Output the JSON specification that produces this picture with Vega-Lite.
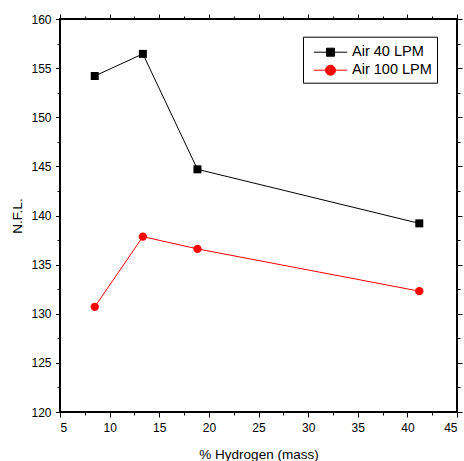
{
  "$schema": "https://vega.github.io/schema/vega-lite/v6.json",
  "width": 397,
  "height": 393,
  "autosize": "none",
  "padding": {"left": 60, "top": 19, "right": 7, "bottom": 49},
  "background": "white",
  "config": {
    "view": {"stroke": "black", "strokeWidth": 2, "fill": null},
    "font": "Liberation Sans",
    "axis": {
      "grid": false,
      "domain": false,
      "tickColor": "black",
      "tickWidth": 1,
      "labelColor": "black",
      "labelFontSize": 12,
      "labelFont": "Liberation Sans",
      "titleColor": "black",
      "titleFont": "Liberation Sans",
      "titleFontSize": 13.5,
      "titleFontWeight": "normal"
    },
    "legend": {
      "orient": "none", "legendX": 243, "legendY": 17.7,
      "strokeColor": "black", "padding": 5,
      "labelFontSize": 14.5, "labelColor": "black", "labelFont": "Liberation Sans",
      "symbolSize": 400, "labelOffset": 23, "rowPadding": 1,
      "symbolStrokeWidth": 1
    }
  },
  "data": {
    "values": [
      {"h": 8.5, "nfl": 154.2, "series": "Air 40 LPM"},
      {"h": 13.35, "nfl": 156.45, "series": "Air 40 LPM"},
      {"h": 18.85, "nfl": 144.7, "series": "Air 40 LPM"},
      {"h": 41.2, "nfl": 139.2, "series": "Air 40 LPM"},
      {"h": 8.5, "nfl": 130.7, "series": "Air 100 LPM"},
      {"h": 13.35, "nfl": 137.85, "series": "Air 100 LPM"},
      {"h": 18.85, "nfl": 136.6, "series": "Air 100 LPM"},
      {"h": 41.2, "nfl": 132.3, "series": "Air 100 LPM"}
    ]
  },
  "layer": [
    {
      "mark": {"type": "line", "strokeWidth": 1},
      "encoding": {
        "x": {"field": "h", "type": "quantitative", "scale": {"domain": [5, 45], "nice": false, "zero": false},
          "axis": {"orient": "bottom", "values": [5,10,15,20,25,30,35,40,45], "tickSize": 5, "labelPadding": 5, "title": "% Hydrogen (mass)", "titlePadding": 14}},
        "y": {"field": "nfl", "type": "quantitative", "scale": {"domain": [120, 160], "nice": false, "zero": false},
          "axis": {"orient": "left", "values": [120,125,130,135,140,145,150,155,160], "tickSize": 4.5, "labelPadding": 4.5, "title": "N.F.L.", "titlePadding": 6}},
        "color": {"field": "series", "type": "nominal", "title": null, "scale": {"domain": ["Air 40 LPM", "Air 100 LPM"], "range": ["black", "red"]},
          "legend": {
            "encode": {"symbols": {"update": {
              "shape": {"signal": "datum.value === 'Air 40 LPM' ? 'M-0.47,0H2.87M0.8,-0.4H1.6V0.4H0.8Z' : 'M-0.47,0H2.87M1.7,0A0.5,0.5,0,1,1,0.7,0A0.5,0.5,0,1,1,1.7,0Z'"},
              "stroke": {"signal": "datum.value === 'Air 40 LPM' ? 'black' : 'red'"},
              "fill": {"signal": "datum.value === 'Air 40 LPM' ? 'black' : 'red'"},
              "size": {"value": 400},
              "strokeWidth": {"value": 1},
              "opacity": {"value": 1}
            }}}
          }}
      }
    },
    {
      "transform": [{"filter": "datum.series === 'Air 40 LPM'"}],
      "mark": {"type": "point", "filled": true, "opacity": 1, "shape": "square", "size": 64, "color": "black"},
      "encoding": {
        "x": {"field": "h", "type": "quantitative", "axis": null},
        "y": {"field": "nfl", "type": "quantitative", "axis": null}
      }
    },
    {
      "transform": [{"filter": "datum.series === 'Air 100 LPM'"}],
      "mark": {"type": "point", "filled": true, "opacity": 1, "shape": "circle", "size": 70, "color": "red"},
      "encoding": {
        "x": {"field": "h", "type": "quantitative", "axis": null},
        "y": {"field": "nfl", "type": "quantitative", "axis": null}
      }
    },
    {
      "mark": {"type": "point", "opacity": 0},
      "encoding": {
        "x": {"field": "h", "type": "quantitative", "axis": {"orient": "bottom", "values": [7.5,12.5,17.5,22.5,27.5,32.5,37.5,42.5], "tickSize": 3, "labels": false, "title": null}},
        "y": {"field": "nfl", "type": "quantitative", "axis": {"orient": "left", "values": [122.5,127.5,132.5,137.5,142.5,147.5,152.5,157.5], "tickSize": 3, "labels": false, "title": null}}
      }
    },
    {
      "mark": {"type": "point", "opacity": 0},
      "encoding": {
        "x": {"field": "h", "type": "quantitative", "axis": {"orient": "top", "values": [5,10,15,20,25,30,35,40,45], "tickSize": 5, "labels": false, "title": null}},
        "y": {"field": "nfl", "type": "quantitative", "axis": {"orient": "right", "values": [120,125,130,135,140,145,150,155,160], "tickSize": 5, "labels": false, "title": null}}
      }
    },
    {
      "mark": {"type": "point", "opacity": 0},
      "encoding": {
        "x": {"field": "h", "type": "quantitative", "axis": {"orient": "top", "values": [7.5,12.5,17.5,22.5,27.5,32.5,37.5,42.5], "tickSize": 3, "labels": false, "title": null}},
        "y": {"field": "nfl", "type": "quantitative", "axis": {"orient": "right", "values": [122.5,127.5,132.5,137.5,142.5,147.5,152.5,157.5], "tickSize": 3, "labels": false, "title": null}}
      }
    }
  ],
  "resolve": {"axis": {"x": "independent", "y": "independent"}}
}
